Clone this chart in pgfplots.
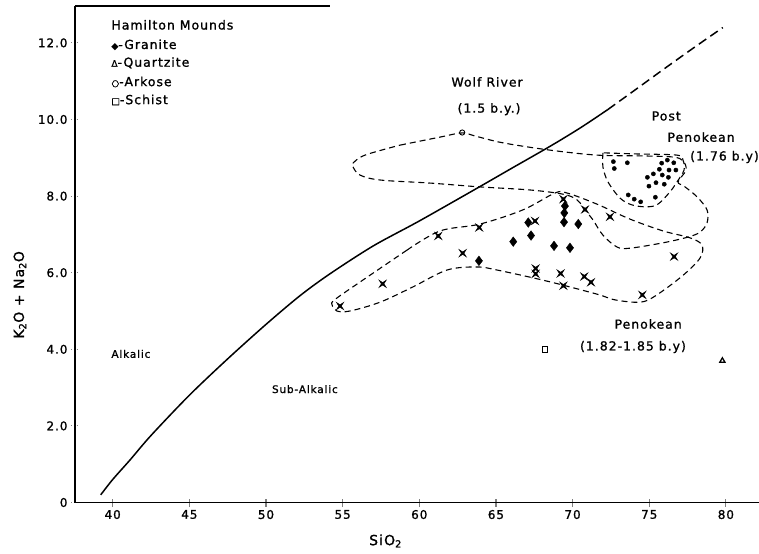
\documentclass[border=0pt]{standalone}
\usepackage{fontspec}
\setmainfont[LetterSpace=8, FakeBold=1.2]{DejaVu Sans}
\usepackage{pgfplots}
\pgfplotsset{compat=1.18}

% filled four-point star, for the other Penokean granites
\pgfdeclareplotmark{xsq}{%
  \pgfpathmoveto{\pgfqpoint{\pgfplotmarksize}{\pgfplotmarksize}}%
  \pgfpathlineto{\pgfqpoint{0pt}{0.35\pgfplotmarksize}}%
  \pgfpathlineto{\pgfqpoint{-\pgfplotmarksize}{\pgfplotmarksize}}%
  \pgfpathlineto{\pgfqpoint{-0.35\pgfplotmarksize}{0pt}}%
  \pgfpathlineto{\pgfqpoint{-\pgfplotmarksize}{-\pgfplotmarksize}}%
  \pgfpathlineto{\pgfqpoint{0pt}{-0.35\pgfplotmarksize}}%
  \pgfpathlineto{\pgfqpoint{\pgfplotmarksize}{-\pgfplotmarksize}}%
  \pgfpathlineto{\pgfqpoint{0.35\pgfplotmarksize}{0pt}}%
  \pgfpathclose
  \pgfusepathqfillstroke}

\newcommand{\lbl}{\fontsize{12.5}{14}\selectfont}
\newcommand{\sml}{\fontsize{10.5}{12}\selectfont}

\begin{document}
\begin{tikzpicture}
\begin{axis}[
    x=15.33bp, y=38.3bp,
    xmin=37.54, xmax=82.16,
    ymin=0, ymax=12.97,
    axis x line*=bottom, axis y line*=left,
    axis line style={line width=1.6bp},
    clip=false,
    xtick={40,45,...,80},
    ytick={0,2,...,12},
    yticklabels={0,2.0,4.0,6.0,8.0,10.0,12.0},
    tick align=center,
    major tick length=8bp,
    x tick style={line width=1.2bp},
    y tick style={line width=0.9bp, dash pattern=on 1.2bp off 1.6bp},
    /pgf/number format/assume math mode=true,
    ticklabel style={font=\fontsize{12}{14}\selectfont},
    xlabel={SiO\textsubscript{2}},
    ylabel={K\textsubscript{2}O + Na\textsubscript{2}O},
    label style={font=\fontsize{14}{16}\selectfont},
    xlabel style={at={(axis description cs:0.454,-0.0775)}, anchor=center},
    ylabel style={at={(axis description cs:-0.0805,0.418)}, anchor=center},
]

% alkalic / sub-alkalic boundary
\addplot[line width=1.5bp, smooth, tension=0.5] coordinates {
  (39.22,0.2) (40,0.6) (41.13,1.11) (42.5,1.75) (45,2.8) (47.5,3.75)
  (50,4.65) (52.22,5.40) (54.17,5.97) (57,6.7) (60,7.35) (63.96,8.25)
  (66,8.72) (68.53,9.30) (70.5,9.78) (72.3,10.26)
};
\addplot[line width=1.5bp, dash pattern=on 9bp off 5bp, smooth, tension=0.5] coordinates {
  (72.3,10.26) (74,10.75) (76,11.33) (78,11.9) (79.8,12.4)
};

% Penokean field
\addplot[line width=1.1bp, dash pattern=on 6bp off 4bp, smooth, tension=0.55] coordinates {
  (59.20,6.59) (61.35,7.09) (63.96,7.27) (66.76,7.64) (68.85,8.08) (69.64,8.08)
  (71.59,7.79) (73.74,7.40) (75.90,7.09) (77.66,6.91) (78.44,6.72) (78.31,6.38)
  (77.14,5.91) (75.38,5.39) (74.40,5.23) (72.77,5.29) (71.59,5.44) (68.33,5.78)
  (65.07,6.07) (63.76,6.15) (61.81,6.07) (59.59,5.63) (57.44,5.23) (55.48,5.00)
  (54.63,5.00) (54.31,5.16) (54.50,5.30) (56.33,5.81) (59.20,6.59)
};

% Wolf River field
\addplot[line width=1.1bp, dash pattern=on 6bp off 4bp, smooth, tension=0.55] coordinates {
  (58.74,9.33) (61.35,9.54) (62.79,9.65) (63.63,9.57) (65.46,9.39) (68.53,9.20)
  (71.59,9.07) (74.40,9.05) (76.55,9.02) (77.20,8.92) (77.40,8.68) (76.88,8.37)
  (77.27,8.26) (78.12,7.98) (78.77,7.64) (78.77,7.30) (78.31,7.06) (77.53,6.93)
  (75.90,6.78) (73.74,6.64) (72.90,6.67) (71.98,6.98) (71.33,7.38) (70.94,7.58)
  (70.29,7.90) (69.37,8.05) (67.22,8.16) (63.96,8.24) (60.70,8.34) (57.44,8.42)
  (56.13,8.55) (55.68,8.76) (55.68,8.86) (56.46,9.07) (58.74,9.33)
};

% Post Penokean field
\addplot[line width=1.1bp, dash pattern=on 6bp off 4bp, smooth, tension=0.55] coordinates {
  (71.98,9.13) (71.98,8.76) (72.31,8.37) (73.09,7.95) (73.87,7.77) (74.85,7.72)
  (75.57,7.79) (76.35,8.11) (76.81,8.37) (77.27,8.68) (77.20,8.94) (76.81,9.07)
  (74.20,9.10) (71.98,9.13)
};

% Post Penokean samples
\addplot[only marks, mark=*, mark size=2.1bp] coordinates {
  (72.66,8.90) (73.57,8.87) (72.72,8.72) (75.81,8.86) (76.18,8.94) (76.60,8.87)
  (75.66,8.70) (76.29,8.68) (76.74,8.68) (75.27,8.58) (75.85,8.55) (76.25,8.49)
  (74.88,8.49) (75.44,8.35) (74.98,8.26) (75.98,8.31) (73.63,8.03) (74.02,7.92)
  (74.44,7.85) (75.40,7.97)
};

% Penokean samples
\addplot[only marks, mark=xsq, mark size=3.4bp, line width=0.6bp] coordinates {
  (67.55,7.35) (69.40,7.92) (70.81,7.65) (72.44,7.46) (62.83,6.51) (61.24,6.96)
  (63.91,7.18) (57.61,5.71) (54.83,5.13) (67.59,6.11) (67.59,5.97) (69.22,5.98)
  (69.40,5.66) (70.76,5.90) (71.20,5.75) (74.55,5.42) (76.62,6.42)
};

% Hamilton Mounds: granite
\addplot[only marks, mark=diamond*, mark size=4.8bp] coordinates {
  (67.11,7.31) (69.50,7.74) (69.46,7.56) (69.44,7.32) (70.37,7.27) (66.13,6.81)
  (67.29,6.97) (68.79,6.70) (69.83,6.65) (63.89,6.31)
};
% quartzite
\addplot[only marks, mark=triangle, mark size=3bp, line width=1.3bp] coordinates {(79.77,3.70)};
% arkose
\addplot[only marks, mark=o, mark size=2.6bp, line width=0.9bp] coordinates {(62.80,9.66)};
% schist
\addplot[only marks, mark=square, mark size=2.8bp, line width=0.8bp] coordinates {(68.20,4.00)};

% partial top border
\draw[line width=1.6bp] (axis cs:37.54,12.97) -- (axis cs:54.2,12.97);

% key
\node[anchor=west, font=\lbl] at (axis cs:39.69,12.47) {Hamilton Mounds};
\node[anchor=west, font=\lbl] at (axis cs:39.69,11.95) {{\fontsize{9}{9}\selectfont ◆}-Granite};
\node[anchor=west, font=\lbl] at (axis cs:39.69,11.48) {{\fontsize{9}{9}\selectfont Δ}-Quartzite};
\node[anchor=west, font=\lbl] at (axis cs:39.69,10.98) {{\fontsize{9}{9}\selectfont ○}-Arkose};
\node[anchor=west, font=\lbl] at (axis cs:39.69,10.51) {{\fontsize{9}{9}\selectfont □}-Schist};

% field labels
\node[font=\lbl] at (axis cs:64.42,10.98) {Wolf River};
\node[font=\lbl] at (axis cs:64.55,10.27) {(1.5 b.y.)};
\node[font=\lbl] at (axis cs:76.11,10.09) {Post};
\node[font=\lbl] at (axis cs:78.38,9.54) {Penokean};
\node[font=\lbl] at (axis cs:79.91,9.02) {(1.76 b.y)};
\node[font=\lbl] at (axis cs:74.93,4.66) {Penokean};
\node[font=\lbl] at (axis cs:73.94,4.06) {(1.82-1.85 b.y)};
\node[font=\sml] at (axis cs:41.19,3.88) {Alkalic};
\node[font=\sml] at (axis cs:52.54,2.96) {Sub-Alkalic};

\coordinate (bbsw) at (axis cs:32.65,-1.319);
\coordinate (bbne) at (axis cs:82.16,13.12);
\end{axis}
\pgfresetboundingbox
\path[use as bounding box] (bbsw) rectangle (bbne);
\end{tikzpicture}
\end{document}
